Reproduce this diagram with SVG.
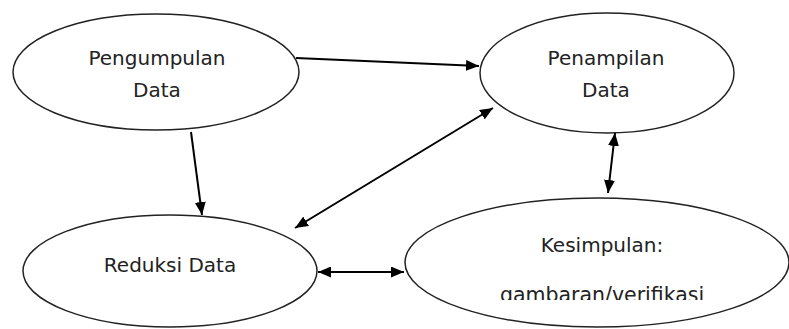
<svg xmlns="http://www.w3.org/2000/svg" width="789" height="329" viewBox="0 0 789 329">
<style>
.node ellipse{fill:#fff;stroke:#222;stroke-width:1.5}
.node text{font-family:"DejaVu Sans",Verdana,sans-serif;font-size:20px;fill:#222;text-anchor:middle}
#edges line{stroke:#000;stroke-width:2}
</style>
<defs>
<marker id="ah" viewBox="0 0 13 11" refX="13" refY="5.5" markerWidth="13" markerHeight="11" markerUnits="userSpaceOnUse" orient="auto-start-reverse">
<path d="M0,0 L13,5.5 L0,11 Z" fill="#000"/>
</marker>
<clipPath id="kclip"><rect x="0" y="0" width="789" height="300"/></clipPath>
</defs>
<rect width="789" height="329" fill="#fff"/>
<g id="n-pengumpulan" class="node">
<ellipse cx="156" cy="72" rx="143" ry="58"/>
<text x="157" y="65">Pengumpulan</text>
<text x="157" y="97">Data</text>
</g>
<g id="n-penampilan" class="node">
<ellipse cx="607" cy="73" rx="127" ry="60"/>
<text x="606" y="65">Penampilan</text>
<text x="606" y="97">Data</text>
</g>
<g id="n-reduksi" class="node">
<ellipse cx="170" cy="271" rx="147" ry="56"/>
<text x="170" y="272">Reduksi Data</text>
</g>
<g id="n-kesimpulan" class="node">
<ellipse cx="597" cy="262.5" rx="192" ry="64.5"/>
<text x="602" y="252">Kesimpulan:</text>
<text x="602" y="301.5" clip-path="url(#kclip)" style="font-size:20.5px">gambaran/verifikasi</text>
</g>
<g id="edges">
<line x1="296" y1="58" x2="479" y2="66" marker-end="url(#ah)"/>
<line x1="191" y1="132" x2="202" y2="215" marker-end="url(#ah)"/>
<line x1="295" y1="228" x2="493" y2="108" marker-start="url(#ah)" marker-end="url(#ah)"/>
<line x1="615" y1="133" x2="608" y2="193" marker-start="url(#ah)" marker-end="url(#ah)"/>
<line x1="318" y1="272" x2="404" y2="272" marker-start="url(#ah)" marker-end="url(#ah)"/>
</g>
</svg>
